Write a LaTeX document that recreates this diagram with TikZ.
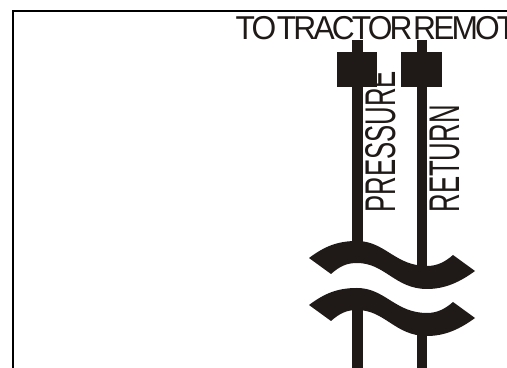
\documentclass[tikz,border=0pt]{standalone}
\usepackage{fontspec}
\setmainfont{Liberation Sans}
\newfontfamily\tightfont[WordSpace=0.1,LetterSpace=-9]{Liberation Sans}
\definecolor{inkblack}{HTML}{1F1A17}
\tikzset{
    pipe/.style={line width=0.105cm, color=inkblack},
    fitting/.style={fill=inkblack, minimum width=0.405cm, minimum height=0.35cm, inner sep=0pt},
    hoselabel/.style={anchor=base west, color=inkblack, transform shape, rotate=90, xscale=0.6, inner sep=0pt, font=\fontsize{12.2}{14}\selectfont},
}
\begin{document}
\begin{tikzpicture}[x=0.01cm, y=-0.01cm]
    \useasboundingbox (0,0) rectangle (507,368);
    \clip (0,0) rectangle (507,368);
    % frame runs off the page on two sides
    \draw[line width=0.02cm] (13,368) -- (13,11) -- (507,11);
    \node[anchor=base west, color=inkblack, inner sep=0pt, transform shape, xscale=0.96, font=\tightfont\fontsize{9.4}{11}\selectfont] (title) at (235,40) {TO TRACTOR REMOT};
    \node[fitting] (pressurefit) at (357,69.5) {};
    \node[fitting] (returnfit) at (421.5,69.5) {};
    \coordinate (pressuretop) at (357.5,40);
    \coordinate (returntop) at (422,40);
    \coordinate (pressurebreak) at (357.5,250);
    \coordinate (returnbreak) at (422,280);
    \coordinate (pressurelow) at (357.5,300);
    \coordinate (returnlow) at (422,330);
    \coordinate (pressureend) at (357.5,368);
    \coordinate (returnend) at (422,368);
    \draw[pipe] (pressuretop) -- (pressurebreak);
    \draw[pipe] (returntop) -- (returnbreak);
    \draw[pipe] (pressurelow) -- (pressureend);
    \draw[pipe] (returnlow) -- (returnend);
    % the two break marks differ only in height
    \foreach \dy in {0,47} {
        \fill[inkblack, shift={(0,\dy)}] (309,258) .. controls (325,246) and (338,241) .. (357,241)
            .. controls (385,241) and (395,266) .. (427,266)
            .. controls (437,266) and (445,262) .. (453,255) -- (475,271)
            .. controls (460,282) and (445,289) .. (427,289)
            .. controls (395,289) and (385,263) .. (357,263)
            .. controls (347,263) and (340,266) .. (331,274) -- cycle;
    }
    \node[hoselabel] (pressurelabel) at (395,213) {PRESSURE};
    \node[hoselabel] (returnlabel) at (459,213) {RETURN};
\end{tikzpicture}
\end{document}
